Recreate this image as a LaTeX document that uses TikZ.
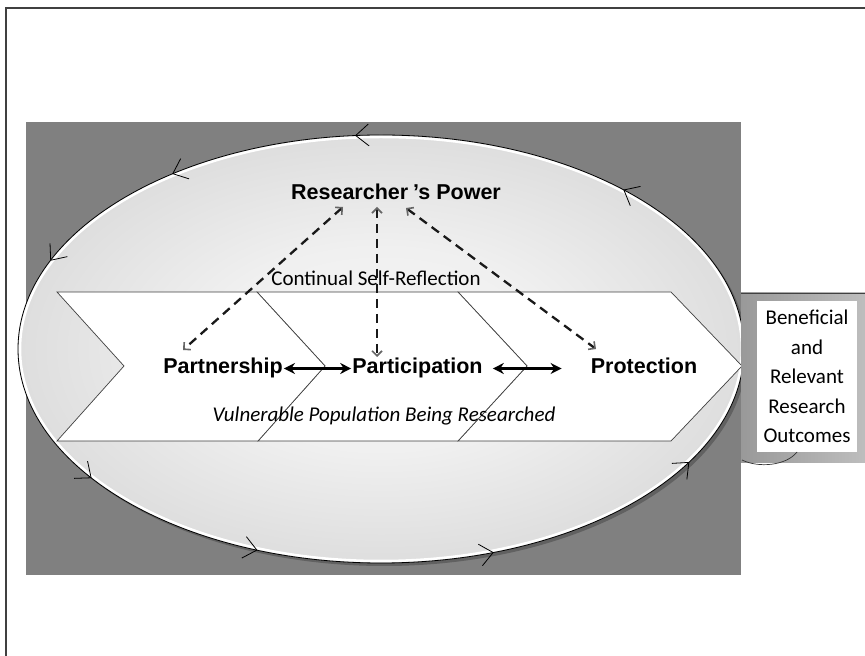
\documentclass[tikz,border=0pt]{standalone}
\usepackage{fontspec}
\setmainfont{Carlito}
\newfontfamily\lsans{Liberation Sans}
\usetikzlibrary{arrows.meta,calc}
\pgfdeclareradialshading{ellshade}{\pgfpoint{0bp}{0bp}}{color(0bp)=(black!3); color(12bp)=(black!6); color(25bp)=(black!13); color(50bp)=(black!13)}
\begin{document}
\begin{tikzpicture}[x=1pt,y=1pt,
  lbl/.style={font=\lsans\bfseries\fontsize{21.5}{25}\selectfont, inner sep=0pt, anchor=base},
  cal/.style={font=\fontsize{21}{25}\selectfont, inner sep=0pt, anchor=base},
  chevbox/.style={fill=white, draw=black!75, line width=0.7pt, line join=miter},
  ringtick/.style={draw=black, line width=0.8pt},
  dasharr/.style={draw=black!90, line width=2.3pt, dash pattern=on 9pt off 6pt,
     {Straight Barb[length=5pt,width=10pt,line width=1.6pt,color=black!60]}-{Straight Barb[length=5pt,width=10pt,line width=1.6pt,color=black!60]}},
  solidarr/.style={draw=black, line width=2.6pt,
     {Stealth[length=11pt,width=11pt]}-{Stealth[length=11pt,width=11pt]}}]
\useasboundingbox (0,0) rectangle (865,656);
\clip (0,0) rectangle (865,656);
\fill[white] (0,0) rectangle (865,656);
% outer frame
\draw[black!75, line width=2pt] (6,-20) rectangle (900,648);
% dark background
\fill[black!50] (26,81) rectangle (741,534);
% ellipse with shadow and halo
\fill[black!62] (384,304) ellipse [x radius=363, y radius=214];
\shade[shading=ellshade] (381,307) ellipse [x radius=363, y radius=214];
\draw[white, line width=2.5pt] (381,307) ellipse [x radius=361, y radius=212];
\draw[black, line width=0.8pt] (381,307) ellipse [x radius=363, y radius=214];
% direction ticks on the ring
\foreach \t in {48,94,125,155.5,217,250,288,328}{
  \pgfmathsetmacro\px{381+363*cos(\t)}
  \pgfmathsetmacro\py{307+214*sin(\t)}
  \pgfmathsetmacro\ang{atan2(214*cos(\t),-363*sin(\t))}
  \draw[ringtick] (\px,\py) ++(\ang+140:17) -- (\px,\py) -- ++(\ang-140:17);
}
% chevron band
\filldraw[chevbox] (458,364) -- (671,364) -- (742,290) -- (671,215) -- (458,215) -- (527,290) -- cycle;
\filldraw[chevbox] (257,364) -- (458,364) -- (527,290) -- (458,215) -- (258,215) -- (325,290) -- cycle;
\filldraw[chevbox] (57,364) -- (257,364) -- (325,290) -- (258,215) -- (57,215) -- (124,290) -- cycle;
% texts
\node[lbl] (rp) at (396,456) {Researcher\kern5pt’s Power};
\node[cal] (csr) at (376,370) {Continual Self-Reflection};
\node[lbl] (pship) at (223,282) {Partnership};
\node[lbl] (pcip) at (417.5,282) {Participation};
\node[lbl] (prot) at (644,282) {Protection};
\node[cal, font=\itshape\fontsize{21}{25}\selectfont] (vuln) at (384,234) {Vulnerable Population Being Researched};
% solid double arrows
\draw[solidarr] ($(pship.base east)+(1,5.5)$) -- ($(pcip.base west)+(-1,5.5)$);
\draw[solidarr] ($(pcip.base east)+(10,5.5)$) -- ($(prot.base west)+(-29,5.5)$);
% dashed double arrows
\draw[dasharr] ($(rp.base)+(-53,-7)$) -- ($(pship.base)+(-40,24)$);
\draw[dasharr] ($(rp.base)+(-19,-7)$) -- ($(pcip.base)+(-40.5,17)$);
\draw[dasharr] ($(rp.base)+(10,-8)$) -- ($(prot.base)+(-48,25)$);
% outcome box
\shade[left color=black!40, right color=black!24] (741,193) rectangle (880,363);
\draw[black!75, line width=0.8pt] (741,363) -- (880,363);
\node[fill=white, minimum width=100pt, minimum height=151pt, inner sep=0pt, align=center,
      font=\fontsize{21}{29.5}\selectfont] (outc) at (807,279.5)
      {Beneficial\\and\\Relevant\\Research\\Outcomes};
\draw[black!80, line width=0.7pt] (742,196) .. controls (758,188) and (786,190) .. (797,204);
\end{tikzpicture}
\end{document}
